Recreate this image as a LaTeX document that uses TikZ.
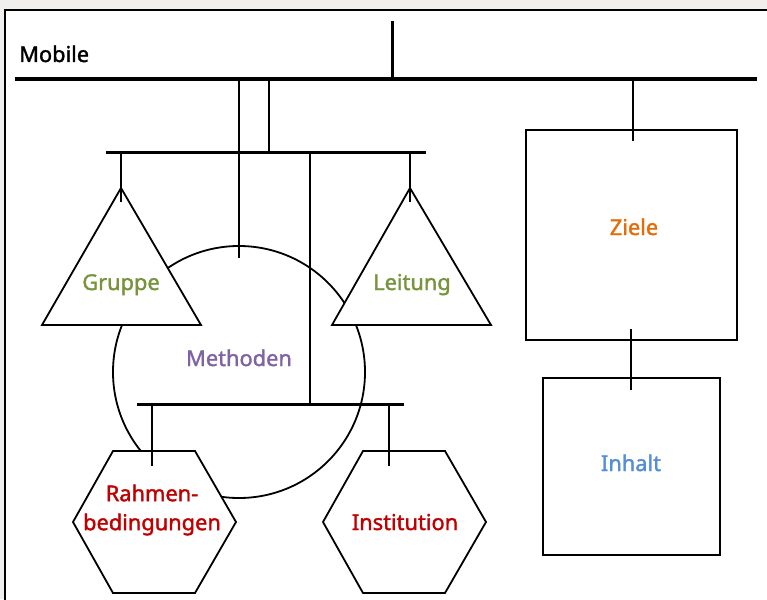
\documentclass[tikz,border=0pt]{standalone}
\usepackage{fontspec}
\setmainfont{Noto Sans}
\newfontfamily\lblfont{Noto Sans}[FakeBold=1.6]
\definecolor{bgc}{HTML}{F0EFED}
\definecolor{cgreen}{HTML}{77933C}
\definecolor{corange}{HTML}{E46C0A}
\definecolor{cpurple}{HTML}{8064A2}
\definecolor{cblue}{HTML}{558ED5}
\definecolor{cred}{HTML}{C00000}
\begin{document}
\begin{tikzpicture}[x=1pt,y=-1pt,
  lbl/.style={font=\lblfont\fontsize{21.8}{29}\selectfont, inner sep=0pt},
  mainbar/.style={line width=3.8pt},
  subbar/.style={line width=3pt},
  hang/.style={line width=1.8pt},
  shp/.style={draw=black, fill=white, line width=1.8pt, line join=miter}]
\useasboundingbox (0,0) rectangle (767,599);
\fill[bgc] (0,0) rectangle (767,599);
\filldraw[fill=white, draw=black, line width=1.8pt] (5,10) rectangle (775,610);

% coordinates
\coordinate (topA) at (392,21);
\coordinate (topB) at (392,79);
\coordinate (mL) at (15,79);
\coordinate (mR) at (757,79);
\coordinate (sL) at (106,152);
\coordinate (sR) at (426,152);
\coordinate (bL) at (137,404);
\coordinate (bR) at (404,404);

% main bars
\draw[mainbar] (mL) -- (mR);
\draw[subbar] (topA) -- (topB);
\draw[subbar] (sL) -- (sR);

% circle
\draw[shp] (239,372) circle[radius=126];

% triangles
\draw[shp] (121,188) -- (201,325) -- (42,325) -- cycle;
\draw[shp] (410,188) -- (491,325) -- (332,325) -- cycle;

% hexagons
\draw[shp] (113,451) -- (195,451) -- (236,522) -- (195,593) -- (113,593) -- (73,522) -- cycle;
\draw[shp] (363,451) -- (445,451) -- (486,522) -- (445,593) -- (363,593) -- (323,522) -- cycle;

% boxes
\draw[shp] (526,130) rectangle (737,340);
\draw[shp] (543,378) rectangle (720,555);

% bottom bar
\draw[subbar] (bL) -- (bR);

% hanging lines
\draw[hang] (239,79) -- (239,258);
\draw[hang] (269,79) -- (269,152);
\draw[hang] (310,152) -- (310,404);
\draw[hang] (121,152) -- (121,202);
\draw[hang] (410,152) -- (410,202);
\draw[hang] (152,404) -- (152,466);
\draw[hang] (389,404) -- (389,466);
\draw[hang] (633,79) -- (633,141);
\draw[hang] (631,329) -- (631,390);

% labels
\node[lbl, anchor=base west] (mobile) at (19,62) {Mobile};
\node[lbl, anchor=base, text=cpurple] (methoden) at (239,366) {Methoden};
\node[lbl, anchor=base, text=cgreen] (gruppe) at (121,290) {Gruppe};
\node[lbl, anchor=base, text=cgreen] (leitung) at (412,290) {Leitung};
\node[lbl, anchor=base, text=corange] (ziele) at (634,235) {Ziele};
\node[lbl, anchor=base, text=cblue] (inhalt) at (631,471) {Inhalt};
\node[lbl, anchor=base, text=cred] (institution) at (405,530) {Institution};
\node[lbl, align=center, text=cred] (rahmen) at (152,510) {Rahmen-\\bedingungen};
\end{tikzpicture}
\end{document}
